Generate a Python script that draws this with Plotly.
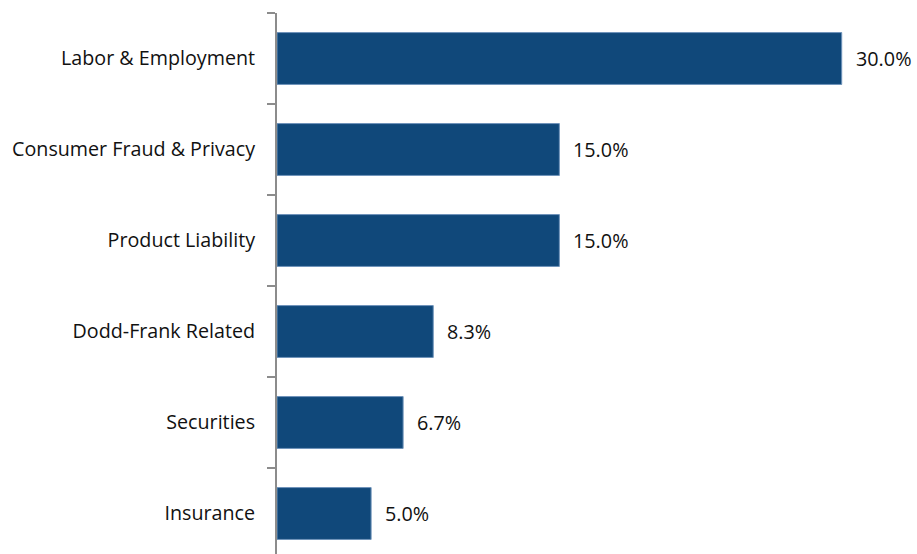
import plotly.graph_objects as go

categories = ["Labor & Employment", "Consumer Fraud & Privacy", "Product Liability",
              "Dodd-Frank Related", "Securities", "Insurance"]
shares = [30.0, 15.0, 15.0, 8.3, 6.7, 5.0]

BAR = "#10487A"
FONT = "Open Sans, Noto Sans, sans-serif"

fig = go.Figure(go.Bar(
    x=shares, y=categories, orientation="h",
    marker=dict(color=BAR, line=dict(color="#6F93BA", width=1)),
    width=0.57,
    hoverinfo="skip",
))

for cat, v in zip(categories, shares):
    fig.add_annotation(x=v, y=cat, text=f"{v:.1f}%", showarrow=False,
                       xanchor="left", xshift=12,
                       font=dict(family=FONT, size=19.8, color="#111111"))

fig.update_layout(
    width=917, height=554,
    margin=dict(l=277, r=0, t=13, b=0),
    plot_bgcolor="white", paper_bgcolor="white",
    showlegend=False,
    bargap=0.43,
    xaxis=dict(range=[0, 34], visible=False, fixedrange=True),
    yaxis=dict(
        type="category", range=[5.445, -0.5],
        showline=True, linecolor="#8C8C8C", linewidth=2,
        ticks="outside", tickson="boundaries", ticklen=8, tickcolor="#8C8C8C", tickwidth=2,
        tickfont=dict(family=FONT, size=19.7, color="#111111"),
        ticklabelstandoff=16,
        showgrid=False, zeroline=False,
    ),
)

fig.write_html("out.html")
